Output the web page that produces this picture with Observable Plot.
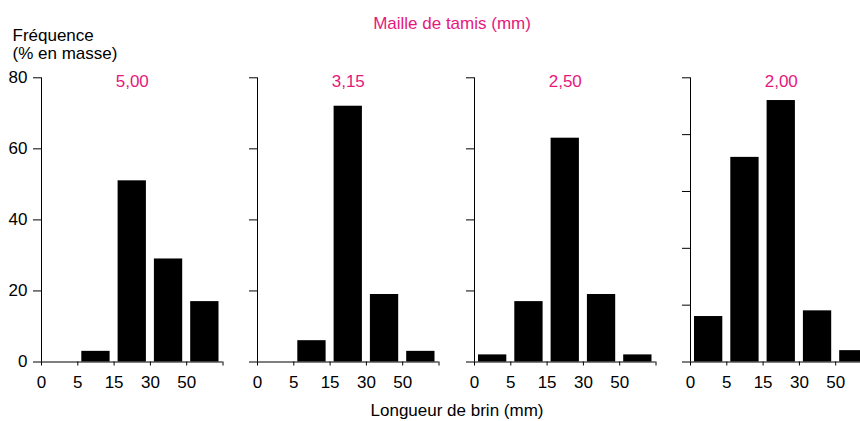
<!DOCTYPE html>
<html>
<head>
<meta charset="utf-8">
<script src="https://cdn.jsdelivr.net/npm/d3@7"></script>
<script src="https://cdn.jsdelivr.net/npm/@observablehq/plot@0.6"></script>
<style>
  html, body { margin: 0; padding: 0; background: white; }
  #c { position: relative; width: 860px; height: 421px; overflow: hidden; background: white;
       font-family: "Liberation Sans", Arial, sans-serif; font-size: 17px; color: #000; }
  .lbl { position: absolute; line-height: 17px; white-space: nowrap; }
  .panel { position: absolute; top: 0; }
</style>
</head>
<body>
<div id="c">
  <div class="lbl" style="left:12.5px; top:26.8px;">Fréquence</div>
  <div class="lbl" style="left:12.5px; top:44.6px;">(% en masse)</div>
  <div class="lbl" id="toptitle" style="left:452px; top:14.9px; transform:translateX(-50%); color:#e5177d;">Maille de tamis (mm)</div>
  <div class="lbl" id="xtitle" style="left:457px; top:402.4px; transform:translateX(-50%);">Longueur de brin (mm)</div>
</div>
<script>
// ---- data ----
const binEdges = ["0", "5", "15", "30", "50"];
const sieves = ["5,00", "3,15", "2,50", "2,00"];
const freq500 = [0, 3, 51, 29, 17];
const freq315 = [0, 6, 72, 19, 3];
const freq250 = [2, 17, 63, 19, 2];
const freq200 = [8, 36, 46, 9, 2];
const yMax = [80, 80, 80, 50];
const yStep = [20, 20, 20, 10];

const series = [freq500, freq315, freq250, freq200];
const pink = "#e5177d";
const axisX0 = [41, 257.3, 473.7, 690];
const marginLeft = 41;
const container = document.getElementById("c");

series.forEach((vals, p) => {
  const data = vals.map((v, i) => ({i, v}));
  const chart = Plot.plot({
    width: 225.5,
    height: 421,
    marginLeft,
    marginRight: 3,
    marginTop: 77.3,
    marginBottom: 59.5,
    style: {background: "transparent", fontFamily: "'Liberation Sans', Arial, sans-serif", fontSize: "17px", color: "black"},
    x: {domain: [0, 5], axis: null},
    y: {domain: [0, yMax[p]], axis: null},
    marks: [
      Plot.rectY(data, {x1: "i", x2: d => d.i + 1, y: "v", insetLeft: 4, insetRight: 4, fill: "black"}),
      Plot.ruleY([0], {stroke: "black"}),
      Plot.ruleX([0], {stroke: "black"}),
      Plot.axisX({ticks: d3.range(6), tickSize: 4, tickPadding: 10, label: null,
                  tickFormat: i => binEdges[i] ?? "", stroke: "black", strokeOpacity: 1}),
      Plot.axisY({ticks: d3.range(0, yMax[p] + 1, yStep[p]), tickSize: 8, tickPadding: 6, label: null,
                  tickFormat: p === 0 ? (d => String(d)) : (() => ""), stroke: "black", strokeOpacity: 1}),
      Plot.text([sieves[p]], {frameAnchor: "top", dy: -3, fill: pink, fontSize: 17})
    ]
  });
  chart.classList.add("panel");
  chart.style.left = (axisX0[p] - marginLeft) + "px";
  chart.style.maxWidth = "none";
  container.appendChild(chart);
});
</script>
</body>
</html>
